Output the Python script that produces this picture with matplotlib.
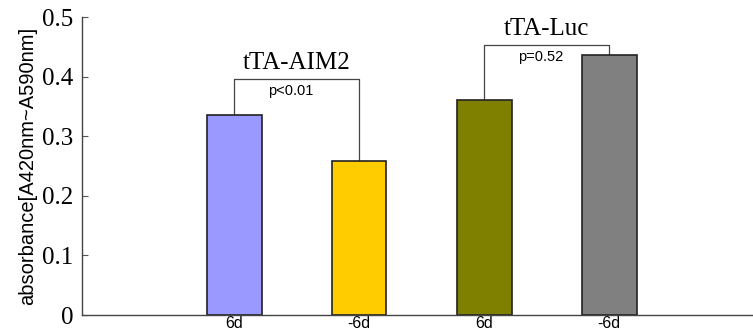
import matplotlib.pyplot as plt

labels = ['6d', '-6d', '6d', '-6d']
values = [0.336, 0.259, 0.361, 0.437]
colors = ['#9999ff', '#ffcc00', '#808000', '#808080']
groups = ['tTA-AIM2', 'tTA-Luc']
pvals = ['p<0.01', 'p=0.52']
bracket_h = [0.396, 0.453]

x = [1, 2, 3, 4]

fig = plt.figure(figsize=(7.53, 3.3), dpi=100)
ax = fig.add_axes([82 / 753, 15 / 330, 1 - 82 / 753, 298 / 330])

ax.bar(x, values, width=0.44, color=colors, edgecolor='#222222', linewidth=1.2, zorder=2)

# significance brackets
for i, (g, p, h) in enumerate(zip(groups, pvals, bracket_h)):
    a, b = x[2 * i], x[2 * i + 1]
    ax.plot([a, a, b, b], [values[2 * i], h, h, values[2 * i + 1]],
            color='#444444', linewidth=0.9, zorder=1)
    mid = (a + b) / 2
    ax.text(mid, h + 0.008, g, ha='center', va='bottom',
            fontsize=18, family='Liberation Serif')
    ax.text(mid - 0.05, h - 0.008, p, ha='center', va='top',
            fontsize=10.5, family='Liberation Sans')

ax.set_xlim(-0.216, 5.152)
ax.set_ylim(0, 0.5)
ax.set_xticks(x)
ax.set_xticklabels(labels, family='Liberation Sans', fontsize=11.5)
ax.tick_params(axis='x', length=0, pad=1)
ax.set_yticks([0, 0.1, 0.2, 0.3, 0.4, 0.5])
ax.set_yticklabels(['0', '0.1', '0.2', '0.3', '0.4', '0.5'],
                   family='Liberation Serif', fontsize=18)
ax.tick_params(axis='y', direction='in', length=4, color='#555555', pad=6)

for s in ['top', 'right']:
    ax.spines[s].set_visible(False)
for s in ['left', 'bottom']:
    ax.spines[s].set_color('#444444')
    ax.spines[s].set_linewidth(1.0)

ax.set_ylabel('absorbance[A420nm~A590nm]', family='Liberation Sans', fontsize=14.5, labelpad=4)

fig.savefig('out.png', dpi=100)
